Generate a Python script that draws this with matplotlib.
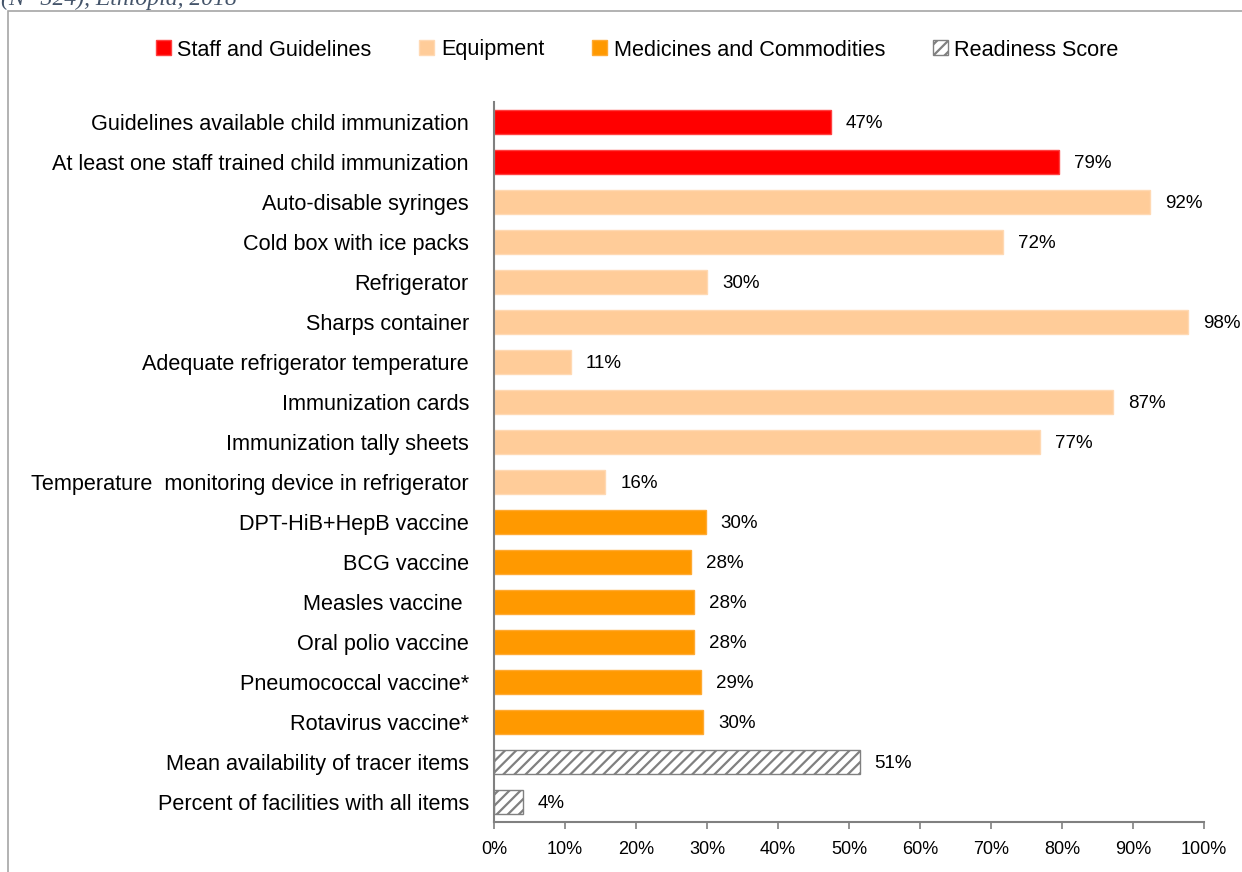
import matplotlib
matplotlib.use("Agg")
import matplotlib.pyplot as plt
from matplotlib.patches import Patch, Rectangle
from matplotlib.ticker import MultipleLocator, PercentFormatter
from matplotlib import font_manager

categories = [
    "Guidelines available child immunization",
    "At least one staff trained child immunization",
    "Auto-disable syringes",
    "Cold box with ice packs",
    "Refrigerator",
    "Sharps container",
    "Adequate refrigerator temperature",
    "Immunization cards",
    "Immunization tally sheets",
    "Temperature  monitoring device in refrigerator",
    "DPT-HiB+HepB vaccine",
    "BCG vaccine",
    "Measles vaccine ",
    "Oral polio vaccine",
    "Pneumococcal vaccine*",
    "Rotavirus vaccine*",
    "Mean availability of tracer items",
    "Percent of facilities with all items",
]
values = [47.4, 79.6, 92.4, 71.7, 30.0, 97.8, 10.8, 87.2, 76.9, 15.7,
          29.8, 27.8, 28.1, 28.1, 29.2, 29.5, 51.5, 4.1]
labels = ["47%", "79%", "92%", "72%", "30%", "98%", "11%", "87%", "77%", "16%",
          "30%", "28%", "28%", "28%", "29%", "30%", "51%", "4%"]
groups = ["Staff and Guidelines"] * 2 + ["Equipment"] * 8 + \
         ["Medicines and Commodities"] * 6 + ["Readiness Score"] * 2
group_names = ["Staff and Guidelines", "Equipment", "Medicines and Commodities", "Readiness Score"]
group_colors = {"Staff and Guidelines": "#FF0000", "Equipment": "#FFCC99",
                "Medicines and Commodities": "#FF9900", "Readiness Score": "#FFFFFF"}
edge_colors = {"Staff and Guidelines": "#FF4040", "Equipment": "#FFD9B3",
               "Medicines and Commodities": "#FFAA33", "Readiness Score": "#808080"}

avail = {f.name for f in font_manager.fontManager.ttflist}
fam = ["Liberation Sans Narrow"] if "Liberation Sans Narrow" in avail else ["Liberation Sans"]
plt.rcParams["font.family"] = fam + ["DejaVu Sans"]
plt.rcParams["hatch.color"] = "#808080"
plt.rcParams["hatch.linewidth"] = 1.6

W, H = 1242, 872
fig = plt.figure(figsize=(W / 100, H / 100), dpi=100)
ax = fig.add_axes([494 / W, 1 - 822 / H, (1204 - 494) / W, (822 - 102) / H])

ypos = list(range(len(categories)))
for y, v, g in zip(ypos, values, groups):
    hatch = "///" if g == "Readiness Score" else None
    ax.barh(y, v, height=0.58, color=group_colors[g], edgecolor=edge_colors[g],
            linewidth=1.0, hatch=hatch)
for y, v, lab in zip(ypos, values, labels):
    ax.annotate(lab, (v, y), xytext=(15, 0), textcoords="offset pixels",
                va="center_baseline", ha="left", fontsize=13.5, color="#000000")

ax.set_ylim(len(categories) - 0.5, -0.5)
ax.set_xlim(0, 100)
ax.set_yticks(ypos)
ax.set_yticklabels(categories, fontsize=15.6)
for t in ax.get_yticklabels():
    t.set_verticalalignment("center_baseline")
ax.tick_params(axis="y", length=0, pad=18)
ax.xaxis.set_major_locator(MultipleLocator(10))
ax.xaxis.set_major_formatter(PercentFormatter(decimals=0))
ax.tick_params(axis="x", length=5, width=1.2, color="#808080", pad=9, labelsize=13)
for s in ["top", "right"]:
    ax.spines[s].set_visible(False)
for s in ["left", "bottom"]:
    ax.spines[s].set_color("#808080")
    ax.spines[s].set_linewidth(1.5)

handles = [Patch(facecolor=group_colors[g], edgecolor=edge_colors[g],
                 hatch="///" if g == "Readiness Score" else None) for g in group_names]
fig.legend(handles, group_names, loc="center", bbox_to_anchor=(0.513, 1 - 50 / H),
           ncol=4, frameon=False, fontsize=15.6, handlelength=0.7, handleheight=0.7,
           handletextpad=0.3, columnspacing=2.2)

# outer frame (partially off canvas)
fig.patches.append(Rectangle((8 / W, -0.05), 1.1, 1 - 11 / H + 0.05, transform=fig.transFigure,
                             fill=False, edgecolor="#A6A6A6", linewidth=1.2))
fig.text(1 / W, 1 - 5 / H, "(N=324), Ethiopia, 2018", fontsize=17, style="italic",
         family=["Liberation Serif", "DejaVu Serif"], color="#44546A", va="baseline", ha="left")

fig.savefig("out.png", dpi=100)
